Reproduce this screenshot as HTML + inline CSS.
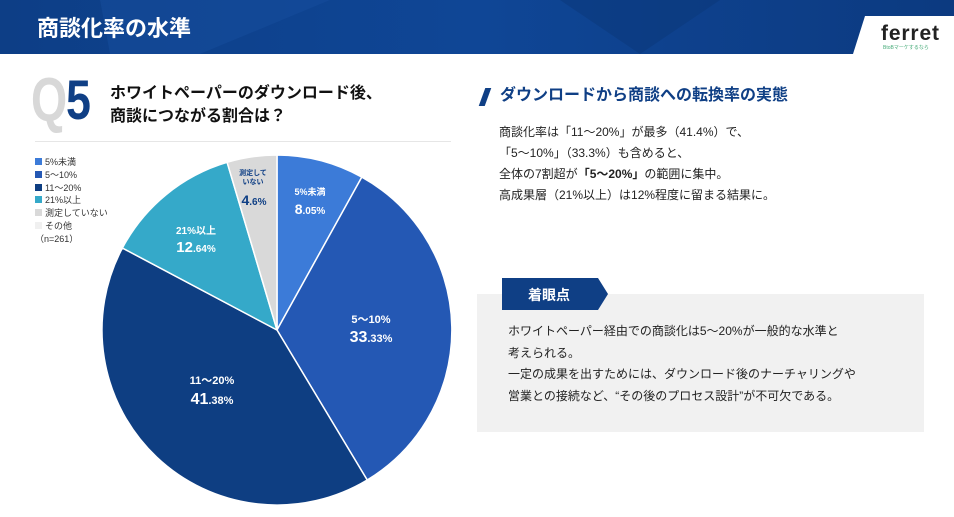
<!DOCTYPE html>
<html><head><meta charset="utf-8"><style>
*{margin:0;padding:0;box-sizing:border-box}
body{width:954px;height:517px;overflow:hidden;background:#fff;font-family:"Liberation Sans","Noto Sans CJK JP",sans-serif;position:relative}
.abs{position:absolute;white-space:nowrap}
</style></head><body>
<svg class="abs" style="left:0;top:0" width="954" height="54">
<defs><linearGradient id="g" x1="0" x2="1"><stop offset="0" stop-color="#0d3e86"/><stop offset="0.5" stop-color="#0f4696"/><stop offset="1" stop-color="#0c3a80"/></linearGradient></defs>
<rect width="954" height="54" fill="url(#g)"/>
<polygon points="100,0 330,0 200,54 110,54" fill="#154e9e" opacity="0.5"/>
<polygon points="560,0 720,0 640,54" fill="#0a3472" opacity="0.4"/>
<polygon points="865,16 954,16 954,54 853,54" fill="#fff"/>
<text x="37" y="36" font-size="22" font-weight="bold" fill="#fff" font-family="Liberation Sans,Noto Sans CJK JP,sans-serif">商談化率の水準</text>
<text x="881" y="40" font-size="21" font-weight="bold" fill="#222" font-family="Liberation Sans,sans-serif" textLength="58">ferret</text>
<text x="883" y="49" font-size="5" fill="#4a7" font-family="Liberation Sans,Noto Sans CJK JP,sans-serif">BtoBマーケするなら</text>
</svg>
<div class="abs" style="left:31px;top:70px;font-size:62px;font-weight:bold;color:#d8d8d8;line-height:62px;transform:scaleX(0.75);transform-origin:left">Q</div>
<div class="abs" style="left:66px;top:72px;font-size:56px;font-weight:bold;color:#0f3f85;line-height:56px;transform:scaleX(0.8);transform-origin:left">5</div>
<div class="abs" style="left:110px;top:82px;font-size:16px;font-weight:bold;color:#111;line-height:23px">ホワイトペーパーのダウンロード後、<br>商談につながる割合は？</div>
<div class="abs" style="left:35px;top:141px;width:416px;height:1px;background:#e6e6e6"></div>
<div class="abs" style="left:35px;top:156px;font-size:9px;color:#333;line-height:12.8px">
<div><span style="display:inline-block;width:7px;height:7px;background:#3c7bd8;margin-right:3px"></span>5%未満</div>
<div><span style="display:inline-block;width:7px;height:7px;background:#2458b4;margin-right:3px"></span>5〜10%</div>
<div><span style="display:inline-block;width:7px;height:7px;background:#0e3e82;margin-right:3px"></span>11〜20%</div>
<div><span style="display:inline-block;width:7px;height:7px;background:#35a9c9;margin-right:3px"></span>21%以上</div>
<div><span style="display:inline-block;width:7px;height:7px;background:#d9d9d9;margin-right:3px"></span>測定していない</div>
<div><span style="display:inline-block;width:7px;height:7px;background:#f0f0f0;margin-right:3px"></span>その他</div>
<div>（n=261）</div></div>
<svg class="abs" style="left:0;top:0" width="954" height="517" font-family="Liberation Sans,Noto Sans CJK JP,sans-serif" font-weight="bold">
<g stroke="#fff" stroke-width="1.5">
<path d="M277,330 L277,155 A175,175 0 0 1 361.8,177.1 Z" fill="#3c7bd8"/>
<path d="M277,330 L361.8,177.1 A175,175 0 0 1 367.2,480 Z" fill="#2458b4"/>
<path d="M277,330 L367.2,480 A175,175 0 0 1 122.4,248 Z" fill="#0e3e82"/>
<path d="M277,330 L122.4,248 A175,175 0 0 1 227.1,162.3 Z" fill="#35a9c9"/>
<path d="M277,330 L227.1,162.3 A175,175 0 0 1 277,155 Z" fill="#d9d9d9"/>
</g>
<g fill="#fff" text-anchor="middle">
<text x="310" y="195" font-size="9">5%未満</text>
<text x="310" y="214" font-size="14">8<tspan font-size="10">.05%</tspan></text>
<text x="371" y="323" font-size="11">5〜10%</text>
<text x="371" y="342" font-size="16">33<tspan font-size="11">.33%</tspan></text>
<text x="212" y="384" font-size="11">11〜20%</text>
<text x="212" y="404" font-size="16">41<tspan font-size="11">.38%</tspan></text>
<text x="196" y="234" font-size="10">21%以上</text>
<text x="196" y="252" font-size="15">12<tspan font-size="10">.64%</tspan></text>
</g>
<g fill="#0f3f85" text-anchor="middle">
<text x="253" y="175" font-size="7">測定して</text>
<text x="253" y="184" font-size="7">いない</text>
<text x="254" y="205" font-size="14">4<tspan font-size="10">.6%</tspan></text>
</g>
</svg>
<div class="abs" style="top:88px;height:18px;background:#0f3f85;transform:skewX(-20deg);width:6px;left:482px"></div>
<div class="abs" style="left:500px;top:85px;font-size:16px;font-weight:bold;color:#0f3f85;line-height:22px">ダウンロードから商談への転換率の実態</div>
<div class="abs" style="left:499px;top:122px;font-size:12px;color:#222;line-height:21px">商談化率は「11〜20%」が最多（41.4%）で、<br>「5〜10%」（33.3%）も含めると、<br>全体の7割超が<b>「5〜20%」</b>の範囲に集中。<br>高成果層（21%以上）は12%程度に留まる結果に。</div>
<div class="abs" style="left:477px;top:294px;width:447px;height:138px;background:#f1f1f1"></div>
<svg class="abs" style="left:502px;top:278px" width="106" height="33"><polygon points="0,0 96,0 106,16 96,32 0,32" fill="#0f3f85"/><text x="26" y="22" font-size="14" font-weight="bold" fill="#fff" font-family="Liberation Sans,Noto Sans CJK JP,sans-serif">着眼点</text></svg>
<div class="abs" style="left:508px;top:321px;font-size:12px;color:#222;line-height:21.5px">ホワイトペーパー経由での商談化は5〜20%が一般的な水準と<br>考えられる。<br>一定の成果を出すためには、ダウンロード後のナーチャリングや<br>営業との接続など、“その後のプロセス設計”が不可欠である。</div>
</body></html>
